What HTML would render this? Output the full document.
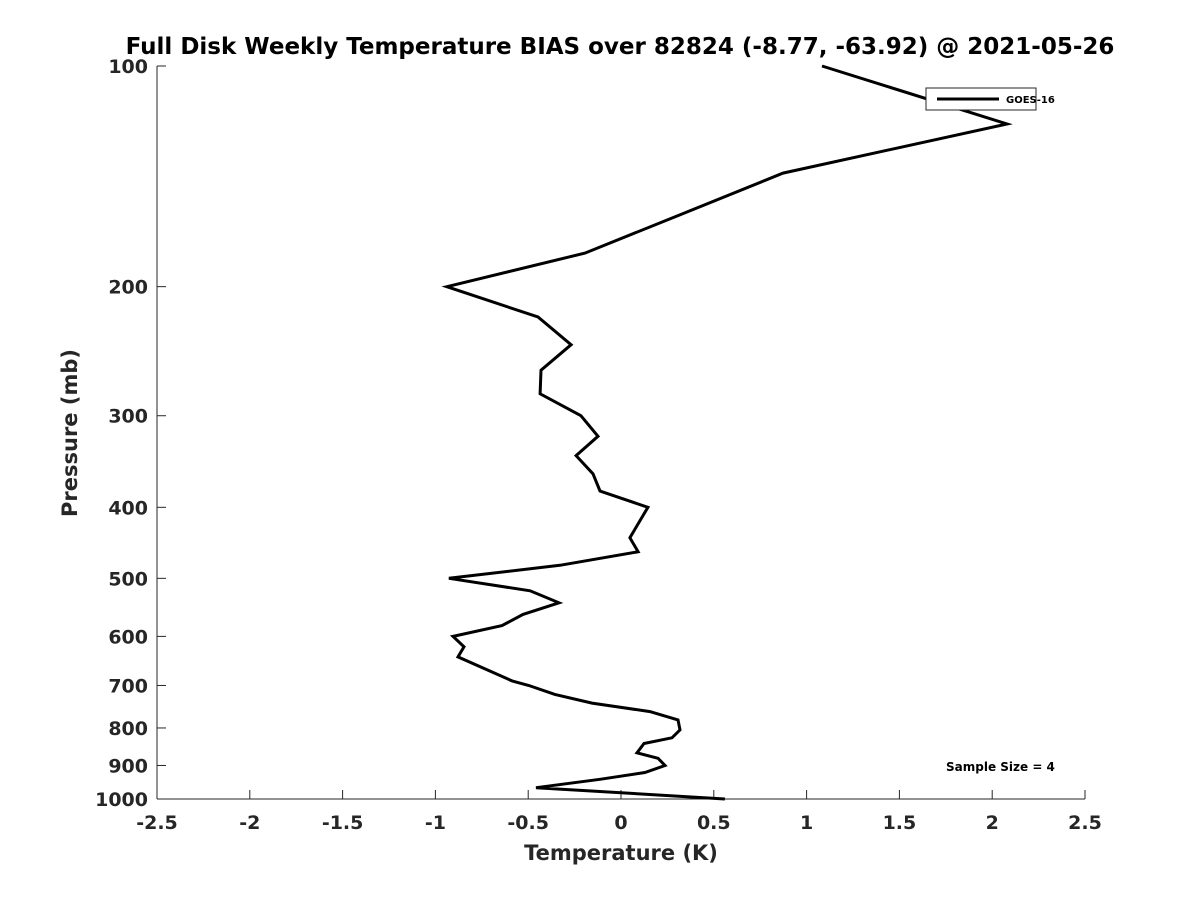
<!DOCTYPE html>
<html><head><meta charset="utf-8"><style>
html,body{margin:0;padding:0;background:#fff;width:1200px;height:900px;overflow:hidden}
svg text{font-family:"DejaVu Sans","Liberation Sans",sans-serif;font-weight:bold;fill:#262626}
</style></head><body>
<svg id="chart" width="1200" height="900" xmlns="http://www.w3.org/2000/svg">
<text x="620" y="54" font-size="23" text-anchor="middle" style="fill:#000">Full Disk Weekly Temperature BIAS over 82824 (-8.77, -63.92) @ 2021-05-26</text>
<g id="axes"></g>
<polyline id="series" fill="none" stroke="#000" stroke-width="3" stroke-linejoin="miter"></polyline>
<g>
<rect x="926" y="88" width="110" height="22" fill="#fff" stroke="#262626" stroke-width="1"/>
<line x1="937" y1="99" x2="999" y2="99" stroke="#000" stroke-width="3"/>
<text x="1006" y="103" font-size="10" style="fill:#000">GOES-16</text>
</g>
<text x="946" y="771" font-size="12" style="fill:#000">Sample Size = 4</text>
<text x="621" y="860" font-size="21" text-anchor="middle">Temperature (K)</text>
<text transform="translate(77,433) rotate(-90)" font-size="21" text-anchor="middle">Pressure (mb)</text>
</svg>
<script>
const xTicks=[-2.5,-2,-1.5,-1,-0.5,0,0.5,1,1.5,2,2.5];
const xTickLabels=["-2.5","-2","-1.5","-1","-0.5","0","0.5","1","1.5","2","2.5"];
const yTicks=[100,200,300,400,500,600,700,800,900,1000];
const pressure=[100,120,140,160,180,200,220,240,260,280,300,320,340,360,380,400,440,460,480,500,520,540,560,580,600,620,640,690,700,720,740,760,780,805,825,840,865,880,900,920,940,965,1000];
const bias=[1.083,2.08,0.873,0.307,-0.194,-0.938,-0.447,-0.269,-0.431,-0.436,-0.216,-0.124,-0.242,-0.151,-0.113,0.145,0.048,0.092,-0.329,-0.927,-0.49,-0.334,-0.528,-0.641,-0.905,-0.846,-0.878,-0.587,-0.496,-0.356,-0.156,0.156,0.307,0.318,0.275,0.124,0.086,0.2,0.237,0.129,-0.113,-0.458,0.56];
const X0=157,X1=1085,Y0=66,Y1=799;
function xs(v){return X0+(v+2.5)/5*(X1-X0);}
function ys(p){return Y0+(Math.log10(p)-2)*(Y1-Y0);}
const NS="http://www.w3.org/2000/svg";
const ax=document.getElementById('axes');
function mk(t,a){const e=document.createElementNS(NS,t);for(const k in a)e.setAttribute(k,a[k]);return e;}
const xl=mk('line',{x1:X0,y1:Y1,x2:X1,y2:Y1,stroke:'#262626','stroke-width':1});


ax.appendChild(xl);
const yl=mk('line',{x1:X0,y1:Y0,x2:X0,y2:Y1,stroke:'#262626','stroke-width':1});


ax.appendChild(yl);
xTicks.forEach((v,i)=>{
 const x=xs(v);
 const t=mk('line',{x1:x,y1:Y1,x2:x,y2:Y1-9,stroke:'#262626','stroke-width':1});
 
 
 ax.appendChild(t);
 const l=mk('text',{x:x,y:829,'font-size':19,'text-anchor':'middle'});
 
 
 l.textContent=xTickLabels[i];ax.appendChild(l);
});
yTicks.forEach(p=>{
 const y=ys(p);
 const t=mk('line',{x1:X0,y1:y,x2:X0+9,y2:y,stroke:'#262626','stroke-width':1});
 
 
 ax.appendChild(t);
 const l=mk('text',{x:148,y:y+7,'font-size':19,'text-anchor':'end'});
 
 
 l.textContent=String(p);ax.appendChild(l);
});
document.getElementById('series').setAttribute('points',pressure.map((p,i)=>xs(bias[i]).toFixed(1)+','+ys(p).toFixed(1)).join(' '));
</script>
</body></html>
